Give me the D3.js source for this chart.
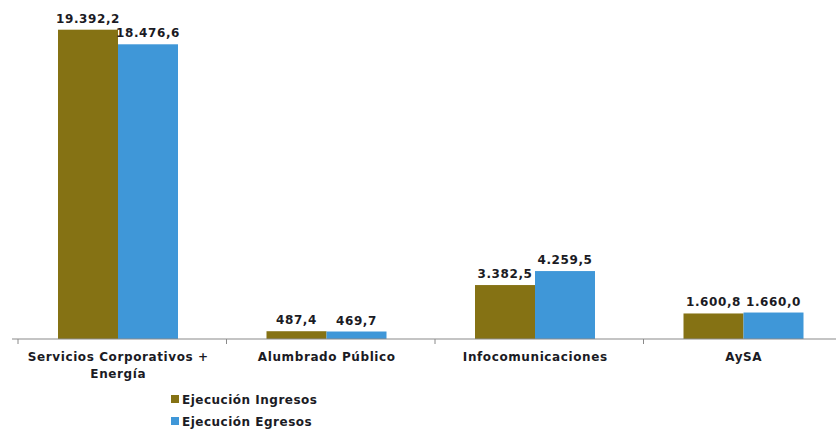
<!DOCTYPE html>
<html>
<head>
<meta charset="utf-8">
<script src="https://cdn.jsdelivr.net/npm/d3@7"></script>
<style>
  body { margin: 0; background: #fff; }
  text { font-family: "DejaVu Sans", Verdana, sans-serif; font-weight: bold; fill: #1b1b24; }
</style>
</head>
<body>
<svg id="chart" width="836" height="429"></svg>
<script>
var categories = [["Servicios Corporativos +", "Energía"], ["Alumbrado Público"], ["Infocomunicaciones"], ["AySA"]];
var seriesNames = ["Ejecución Ingresos", "Ejecución Egresos"];
var ingresos = [19392.2, 487.4, 3382.5, 1600.8];
var egresos = [18476.6, 469.7, 4259.5, 1660.0];
var colors = ["#857214", "#3f97d8"];

var fmt = function(v) {
    // 19392.2 -> "19.392,2"
    var s = v.toFixed(1).split(".");
    return s[0].replace(/\B(?=(\d{3})+(?!\d))/g, ".") + "," + s[1];
};

var svg = d3.select("#chart");
var baseY = 339;

var x0 = d3.scaleBand()
    .domain(d3.range(categories.length))
    .range([18, 852]);

var x1 = d3.scaleBand()
    .domain(d3.range(seriesNames.length))
    .range([40, 160]);

var y = d3.scaleLinear()
    .domain([0, 20000])
    .range([baseY, 20]);

var data = categories.map(function(c, i) {
    return [ingresos[i], egresos[i]];
});

var groups = svg.selectAll("g.cat")
    .data(data)
    .enter().append("g")
    .attr("class", "cat")
    .attr("transform", function(d, i) { return "translate(" + x0(i) + ",0)"; });

groups.selectAll("rect")
    .data(function(d) { return d; })
    .enter().append("rect")
    .attr("x", function(d, j) { return x1(j); })
    .attr("y", function(d) { return y(d); })
    .attr("width", x1.bandwidth())
    .attr("height", function(d) { return baseY - y(d); })
    .attr("fill", function(d, j) { return colors[j]; });

groups.selectAll("text.val")
    .data(function(d) { return d; })
    .enter().append("text")
    .attr("class", "val")
    .attr("x", function(d, j) { return x1(j) + x1.bandwidth() / 2; })
    .attr("y", function(d) { return y(d) - 7; })
    .attr("text-anchor", "middle")
    .style("font-size", "12px")
    .style("letter-spacing", "0.6px")
    .text(fmt);

// x axis
var xAxis = d3.axisBottom(x0)
    .tickSize(0)
    .tickFormat("");
var axisG = svg.append("g")
    .attr("transform", "translate(0," + baseY + ")")
    .call(xAxis);
axisG.select(".domain").remove();
axisG.append("line")
    .attr("x1", 12).attr("x2", 836)
    .attr("stroke", "#8a8a8a").attr("stroke-width", 1.2);
axisG.selectAll("line.sep")
    .data(d3.range(categories.length + 1))
    .enter().append("line")
    .attr("class", "sep")
    .attr("x1", function(i) { return 18 + i * x0.step(); })
    .attr("x2", function(i) { return 18 + i * x0.step(); })
    .attr("y1", 0).attr("y2", 5)
    .attr("stroke", "#8a8a8a");

svg.selectAll("text.cat")
    .data(categories)
    .enter().append("text")
    .attr("class", "cat")
    .attr("text-anchor", "middle")
    .attr("y", 361)
    .style("font-size", "12px")
    .style("letter-spacing", "0.6px")
    .each(function(lines, i) {
        var t = d3.select(this);
        lines.forEach(function(l, k) {
            t.append("tspan")
                .attr("x", x0(i) + x0.bandwidth() / 2 - 4)
                .attr("dy", k === 0 ? 0 : 17)
                .text(l);
        });
    });

// legend
var legend = svg.selectAll("g.leg")
    .data(seriesNames)
    .enter().append("g")
    .attr("class", "leg")
    .attr("transform", function(d, i) { return "translate(171," + (395 + i * 22) + ")"; });
legend.append("rect")
    .attr("width", 8).attr("height", 8)
    .attr("fill", function(d, i) { return colors[i]; });
legend.append("text")
    .attr("x", 11).attr("y", 8.5)
    .style("font-size", "12px")
    .style("letter-spacing", "0.5px")
    .text(function(d) { return d; });
</script>
</body>
</html>
